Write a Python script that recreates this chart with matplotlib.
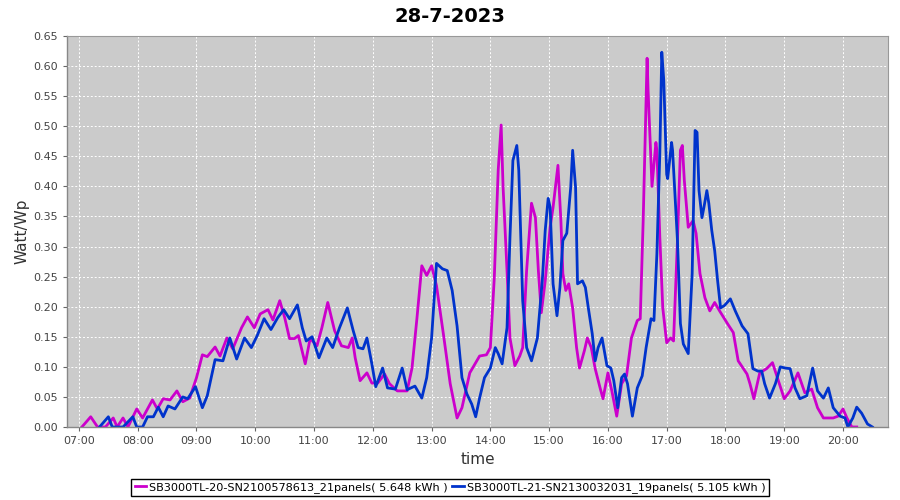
import matplotlib
matplotlib.use("Agg")
import matplotlib.pyplot as plt
from matplotlib.ticker import MultipleLocator, FuncFormatter

title = "28-7-2023"
series1_name = "SB3000TL-20-SN2100578613_21panels( 5.648 kWh )"
series2_name = "SB3000TL-21-SN2130032031_19panels( 5.105 kWh )"

s1_times = ["07:03", "07:12", "07:19", "07:27", "07:35", "07:39", "07:45", "07:50", "07:59", "08:05",
            "08:15", "08:20", "08:26", "08:33", "08:40", "08:46", "08:53", "09:00", "09:06", "09:11",
            "09:19", "09:24", "09:31", "09:37", "09:46", "09:52", "09:59", "10:05", "10:13", "10:18",
            "10:25", "10:30", "10:35", "10:40", "10:44", "10:51", "10:56", "11:03", "11:08", "11:14",
            "11:21", "11:28", "11:35", "11:39", "11:42", "11:47", "11:54", "11:59", "12:05", "12:12",
            "12:17", "12:25", "12:35", "12:40", "12:45", "12:50", "12:55", "13:00", "13:05", "13:12",
            "13:19", "13:26", "13:31", "13:39", "13:49", "13:56", "14:00", "14:04", "14:08", "14:11",
            "14:13", "14:17", "14:20", "14:25", "14:30", "14:33", "14:37", "14:42", "14:46", "14:49",
            "14:52", "14:56", "15:01", "15:04", "15:09", "15:12", "15:14", "15:17", "15:20", "15:24",
            "15:28", "15:31", "15:36", "15:39", "15:43", "15:47", "15:52", "15:55", "16:00", "16:04",
            "16:09", "16:14", "16:19", "16:24", "16:30", "16:33", "16:36", "16:40", "16:41", "16:45",
            "16:49", "16:50", "16:53", "16:56", "17:00", "17:04", "17:07", "17:11", "17:14", "17:16",
            "17:18", "17:22", "17:27", "17:30", "17:34", "17:39", "17:44", "17:49", "17:54", "18:02",
            "18:08", "18:13", "18:22", "18:25", "18:29", "18:35", "18:42", "18:48", "18:53", "19:00",
            "19:06", "19:14", "19:21", "19:28", "19:34", "19:40", "19:50", "19:55", "20:00", "20:04",
            "20:09", "20:14"]
s1_values = [0.0, 0.017, 0.0, 0.0, 0.015, 0.0, 0.015, 0.0, 0.03, 0.015,
             0.045, 0.03, 0.047, 0.045, 0.06, 0.042, 0.048, 0.082, 0.12, 0.117,
             0.133, 0.118, 0.148, 0.13, 0.165, 0.183, 0.165, 0.188, 0.195, 0.178,
             0.21, 0.182, 0.147, 0.147, 0.152, 0.105, 0.147, 0.135, 0.165, 0.207,
             0.16, 0.135, 0.132, 0.148, 0.115, 0.077, 0.09, 0.073, 0.073, 0.088,
             0.072, 0.06, 0.06, 0.098, 0.18, 0.268, 0.252, 0.268, 0.235, 0.155,
             0.072, 0.015, 0.032, 0.09, 0.118, 0.12, 0.132, 0.248, 0.427, 0.502,
             0.398, 0.26, 0.148, 0.102, 0.118, 0.132, 0.26, 0.372, 0.348, 0.26,
             0.19, 0.243, 0.332, 0.365, 0.435, 0.343, 0.255, 0.227, 0.238, 0.198,
             0.132, 0.098, 0.127, 0.148, 0.132, 0.097, 0.065, 0.047, 0.09, 0.06,
             0.018, 0.072, 0.085, 0.148, 0.177, 0.18, 0.343, 0.613, 0.56, 0.40,
             0.473, 0.46, 0.315, 0.198, 0.14, 0.148, 0.143, 0.31, 0.46, 0.468,
             0.41, 0.332, 0.343, 0.322, 0.255, 0.215, 0.193, 0.207, 0.193, 0.172,
             0.157, 0.11, 0.088, 0.072, 0.047, 0.09, 0.097, 0.107, 0.082, 0.047,
             0.06, 0.09, 0.057, 0.063, 0.032, 0.015, 0.015, 0.018, 0.03, 0.015,
             0.0, 0.0]

s2_times = ["07:21", "07:30", "07:34", "07:40", "07:45", "07:55", "07:59", "08:05", "08:10", "08:16",
            "08:21", "08:26", "08:31", "08:38", "08:46", "08:51", "08:59", "09:06", "09:11", "09:19",
            "09:27", "09:34", "09:41", "09:49", "09:56", "10:02", "10:09", "10:16", "10:23", "10:29",
            "10:35", "10:43", "10:48", "10:52", "10:58", "11:05", "11:13", "11:19", "11:26", "11:34",
            "11:40", "11:45", "11:50", "11:54", "11:59", "12:03", "12:10", "12:15", "12:23", "12:30",
            "12:35", "12:43", "12:50", "12:55", "13:00", "13:05", "13:11", "13:16", "13:21", "13:26",
            "13:31", "13:36", "13:41", "13:45", "13:49", "13:54", "14:00", "14:05", "14:08", "14:12",
            "14:17", "14:20", "14:23", "14:27", "14:29", "14:33", "14:37", "14:42", "14:48", "14:53",
            "14:56", "14:59", "15:01", "15:04", "15:08", "15:11", "15:14", "15:18", "15:22", "15:24",
            "15:27", "15:29", "15:34", "15:37", "15:40", "15:44", "15:47", "15:50", "15:54", "15:59",
            "16:03", "16:06", "16:10", "16:14", "16:17", "16:20", "16:25", "16:30", "16:35", "16:39",
            "16:44", "16:47", "16:50", "16:53", "16:55", "16:57", "17:00", "17:01", "17:05", "17:06",
            "17:11", "17:14", "17:17", "17:22", "17:26", "17:29", "17:31", "17:33", "17:36", "17:38",
            "17:41", "17:43", "17:46", "17:49", "17:52", "17:55", "17:59", "18:05", "18:10", "18:17",
            "18:23", "18:28", "18:33", "18:37", "18:40", "18:45", "18:51", "18:56", "19:01", "19:06",
            "19:11", "19:16", "19:23", "19:29", "19:34", "19:40", "19:45", "19:50", "19:57", "20:02",
            "20:05", "20:10", "20:14", "20:19", "20:25", "20:30"]
s2_values = [0.0, 0.017, 0.0, 0.0, 0.0, 0.017, 0.0, 0.0, 0.017, 0.017,
             0.033, 0.017, 0.035, 0.03, 0.05, 0.047, 0.067, 0.032, 0.052, 0.112,
             0.11, 0.148, 0.113, 0.148, 0.132, 0.152, 0.18, 0.162, 0.182, 0.195,
             0.18, 0.203, 0.165, 0.143, 0.15, 0.115, 0.148, 0.132, 0.165, 0.198,
             0.16, 0.132, 0.13, 0.148, 0.105, 0.067, 0.098, 0.065, 0.063, 0.098,
             0.062, 0.068, 0.048, 0.082, 0.148, 0.272, 0.263, 0.26, 0.227, 0.168,
             0.082, 0.055, 0.038, 0.017, 0.048, 0.082, 0.098, 0.132, 0.122, 0.105,
             0.165, 0.315, 0.443, 0.468, 0.427, 0.21, 0.132, 0.11, 0.148, 0.243,
             0.327, 0.38, 0.365, 0.238, 0.185, 0.232, 0.31, 0.322, 0.398, 0.46,
             0.398, 0.238, 0.243, 0.232, 0.198, 0.155, 0.11, 0.132, 0.148, 0.102,
             0.098, 0.077, 0.032, 0.082, 0.088, 0.072, 0.018, 0.065, 0.085, 0.132,
             0.18, 0.177, 0.288, 0.455, 0.623, 0.577, 0.42, 0.413, 0.473, 0.46,
             0.31, 0.172, 0.138, 0.122, 0.255, 0.493, 0.49, 0.393, 0.348, 0.365,
             0.393, 0.372, 0.327, 0.293, 0.243, 0.198, 0.202, 0.213, 0.193, 0.168,
             0.155, 0.097, 0.093, 0.093, 0.072, 0.048, 0.072, 0.1, 0.098, 0.097,
             0.065, 0.047, 0.052, 0.098, 0.06, 0.048, 0.065, 0.032, 0.018, 0.015,
             0.0, 0.015, 0.033, 0.023, 0.005, 0.0]

x_ticks = ["07:00", "08:00", "09:00", "10:00", "11:00", "12:00", "13:00",
           "14:00", "15:00", "16:00", "17:00", "18:00", "19:00", "20:00"]


def to_hours(s):
    h, m = s.split(":")
    return int(h) + int(m) / 60.0


fig = plt.figure(figsize=(9, 5), dpi=100)
fig.patch.set_facecolor("white")
ax = fig.add_axes([0.0744, 0.146, 0.9123, 0.782])
ax.set_facecolor("#cbcbcb")

l1, = ax.plot([to_hours(t) for t in s1_times], s1_values, color="#cc00cc", lw=2.0,
              solid_joinstyle="round", label=series1_name)
l2, = ax.plot([to_hours(t) for t in s2_times], s2_values, color="#0033cc", lw=2.0,
              solid_joinstyle="round", label=series2_name)

ax.set_xlim(6.796, 20.766)
ax.set_ylim(0, 0.65)
ax.set_xticks([to_hours(t) for t in x_ticks])
ax.set_xticklabels(x_ticks)
ax.yaxis.set_major_locator(MultipleLocator(0.05))
ax.yaxis.set_major_formatter(FuncFormatter(lambda v, p: f"{v:.2f}"))

ax.grid(True, color="white", linestyle=(0, (2, 2)), linewidth=0.7)
ax.set_axisbelow(True)
for side in ["top", "right"]:
    ax.spines[side].set_color("#999999")
    ax.spines[side].set_linewidth(0.8)
for side in ["left", "bottom"]:
    ax.spines[side].set_color("#888888")
    ax.spines[side].set_linewidth(1.0)

ax.tick_params(axis="both", labelsize=8, colors="#666666", length=3, width=0.8,
               labelcolor="#444444")

ax.set_xlabel("time", fontsize=11, color="#333333", labelpad=4)
ax.set_ylabel("Watt/Wp", fontsize=11, color="#333333", labelpad=3)
fig.suptitle(title, fontsize=14, fontweight="bold", y=0.985)

fig.legend(handles=[l1, l2], loc="lower center", bbox_to_anchor=(0.5, -0.004), ncol=2,
           fontsize=8.1, frameon=True, fancybox=False, edgecolor="black",
           handlelength=1.0, handletextpad=0.3, columnspacing=0.4,
           borderpad=0.3, framealpha=1.0)

fig.savefig("out.png", dpi=100)
